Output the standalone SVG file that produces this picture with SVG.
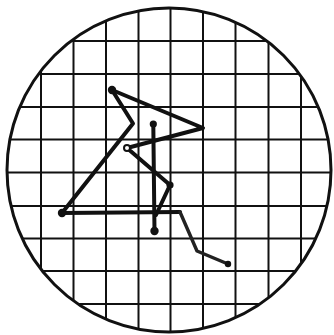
<svg xmlns="http://www.w3.org/2000/svg" width="334" height="335" viewBox="0 0 334 335">
<style>
.grid{stroke:#111;stroke-width:2;fill:none}
.rim{stroke:#111;stroke-width:3;fill:none}
.walk{stroke:#111;stroke-width:4;fill:none;stroke-linecap:round;stroke-linejoin:round}
.thin{stroke:#222;stroke-width:3.4;fill:none;stroke-linecap:round;stroke-linejoin:round}
.dot{fill:#111}
.open{fill:#fff;stroke:#111;stroke-width:2}
</style>
<defs>
<clipPath id="c"><circle cx="169" cy="170" r="162"/></clipPath>
</defs>
<rect width="334" height="335" fill="#fff"/>
<g id="grid" clip-path="url(#c)">
<path class="grid" d="M41 0V335M73.5 0V335M106 0V335M138.5 0V335M170.5 0V335M203 0V335M235.5 0V335M268.5 0V335M301 0V335"/>
<path class="grid" d="M0 41H334M0 74H334M0 107H334M0 139.5H334M0 172.5H334M0 206H334M0 238.5H334M0 271H334M0 304H334"/>
</g>
<g id="rim"><circle class="rim" cx="169" cy="170" r="162"/></g>
<g id="connectors">
<polyline class="walk" points="112,90 133,123.5 62,213 180,212"/>
<polyline class="thin" points="180,212 197,251 228,264"/>
<polyline class="walk" points="112,90 203,128 127,148 170,185 156,215"/>
<polyline class="walk" points="153.3,124 154.5,231"/>
</g>
<g id="points">
<circle class="dot" cx="112" cy="90" r="4.2"/>
<circle class="dot" cx="153.3" cy="124" r="3.6"/>
<circle class="dot" cx="170" cy="185" r="3.6"/>
<circle class="dot" cx="62" cy="213" r="4.2"/>
<circle class="dot" cx="154.5" cy="231" r="4.2"/>
<circle class="dot" cx="228" cy="264" r="3.2"/>
<circle class="open" cx="127" cy="148" r="3"/>
</g>
</svg>
